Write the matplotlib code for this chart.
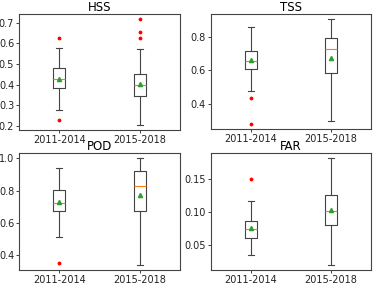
import matplotlib
matplotlib.use("Agg")
import matplotlib.pyplot as plt
from matplotlib.ticker import MultipleLocator
from matplotlib import font_manager

periods = ["2011-2014", "2015-2018"]

# per metric, per period: [whislo, q1, med, q3, whishi], mean, fliers
hss_stats = [[0.279, 0.384, 0.428, 0.479, 0.575], [0.206, 0.346, 0.399, 0.453, 0.570]]
hss_mean = [0.428, 0.404]
hss_fliers = [[0.626, 0.230], [0.716, 0.654, 0.623]]

tss_stats = [[0.477, 0.610, 0.654, 0.717, 0.861], [0.299, 0.585, 0.725, 0.794, 0.906]]
tss_mean = [0.660, 0.676]
tss_fliers = [[0.433, 0.281], []]

pod_stats = [[0.512, 0.671, 0.725, 0.802, 0.940], [0.338, 0.675, 0.829, 0.919, 1.000]]
pod_mean = [0.731, 0.775]
pod_fliers = [[0.348], []]

far_stats = [[0.0358, 0.0617, 0.0754, 0.0871, 0.118], [0.0206, 0.0805, 0.1015, 0.127, 0.182]]
far_mean = [0.0759, 0.103]
far_fliers = [[0.150], []]

metrics = [
    ("HSS", hss_stats, hss_mean, hss_fliers, 0.1),
    ("TSS", tss_stats, tss_mean, tss_fliers, 0.2),
    ("POD", pod_stats, pod_mean, pod_fliers, 0.2),
    ("FAR", far_stats, far_mean, far_fliers, 0.05),
]

names = {f.name for f in font_manager.fontManager.ttflist}
if "DejaVu Sans Condensed" in names:
    plt.rcParams["font.family"] = ["DejaVu Sans Condensed", "DejaVu Sans"]
    tick_fs, title_fs = 7.8, 8.5
else:
    plt.rcParams["font.family"] = ["DejaVu Sans"]
    tick_fs, title_fs = 7.0, 8.5

fig = plt.figure(figsize=(3.74, 2.84), dpi=100)
positions = [
    [0.051, 0.542, 0.430, 0.409],
    [0.564, 0.546, 0.428, 0.405],
    [0.051, 0.049, 0.430, 0.412],
    [0.564, 0.049, 0.428, 0.412],
]
edge = "#444444"
for (name, stats, means, fliers, step), pos in zip(metrics, positions):
    ax = fig.add_axes(pos)
    bxp = []
    for lab, s, m, f in zip(periods, stats, means, fliers):
        bxp.append(dict(label=lab, whislo=s[0], q1=s[1], med=s[2], q3=s[3],
                        whishi=s[4], mean=m, fliers=f))
    ax.bxp(bxp, showmeans=True, widths=0.15,
           boxprops=dict(color=edge, linewidth=0.8),
           whiskerprops=dict(color=edge, linewidth=0.8),
           capprops=dict(color=edge, linewidth=0.8),
           medianprops=dict(color="#ff7f0e", linewidth=0.8),
           meanprops=dict(marker="^", markerfacecolor="#2ca02c",
                          markeredgecolor="#2ca02c", markersize=3),
           flierprops=dict(marker=".", markerfacecolor="red",
                           markeredgecolor="red", markersize=3.5, linestyle="none"))
    ax.yaxis.set_major_locator(MultipleLocator(step))
    ax.set_title(name, fontsize=title_fs, pad=2)
    ax.tick_params(labelsize=tick_fs, length=2, width=0.6, pad=1.5, colors="#222222")
    for sp in ax.spines.values():
        sp.set_color(edge)
        sp.set_linewidth(0.8)

fig.savefig("out.png", dpi=100)
